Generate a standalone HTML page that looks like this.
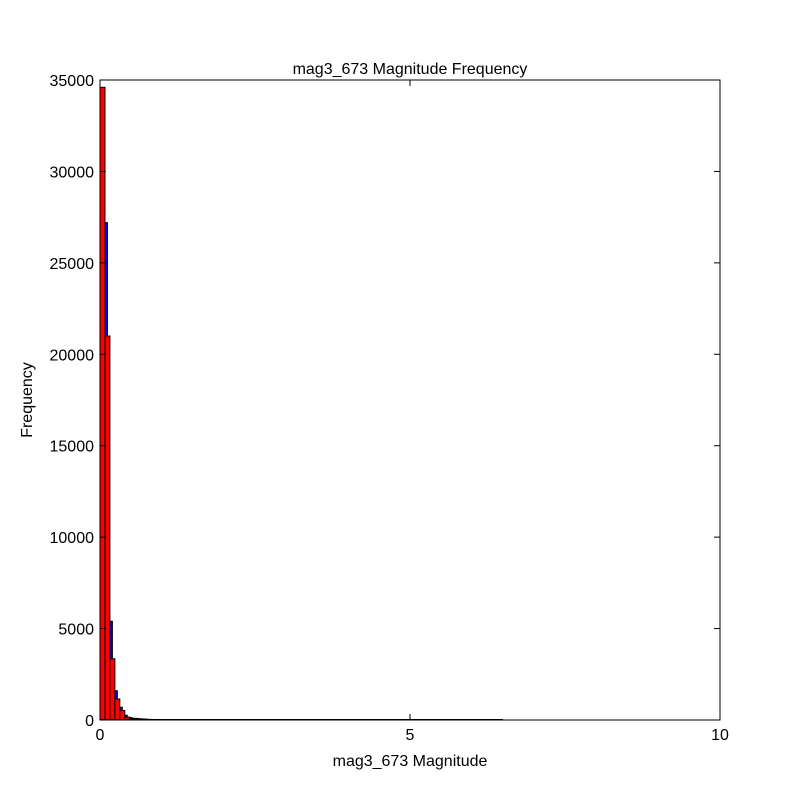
<!DOCTYPE html>
<html><head><meta charset="utf-8"><style>
body{margin:0;background:#fff;}
svg{display:block;font-family:"Liberation Sans",sans-serif;}
</style></head><body>
<svg id="chart" width="800" height="800">
<rect x="0" y="0" width="800" height="800" fill="#fff"/>
<g id="bars"></g>
<rect x="100" y="80" width="620" height="640" fill="none" stroke="#000" stroke-width="1"/>
<g id="axes"></g>
<text x="410" y="74" text-anchor="middle" font-size="16">mag3_673 Magnitude Frequency</text>
<text x="410" y="766" text-anchor="middle" font-size="16">mag3_673 Magnitude</text>
<text x="32" y="400" text-anchor="middle" font-size="16" transform="rotate(-90 32 400)">Frequency</text>
</svg>
<script>
const binWidth = 0.08;
const redCounts = [34600, 21000, 3350, 1150, 520, 160, 90, 60, 40, 25, 15, 10];
const blueCounts = [27200, 5400, 1600, 700, 260, 130, 90, 70, 50, 35, 25, 15, 10];
const blueOffset = 0.04;
const xTicks = [0, 5, 10];
const yTicks = [0, 5000, 10000, 15000, 20000, 25000, 30000, 35000];
const xMax = 10, yMax = 35000;
const X0 = 100, X1 = 720, Y0 = 720, Y1 = 80;
const sx = v => X0 + v / xMax * (X1 - X0);
const sy = v => Y0 - v / yMax * (Y0 - Y1);
const NS = "http://www.w3.org/2000/svg";
const bars = document.getElementById('bars');
const axes = document.getElementById('axes');
function bar(x0, count, color, name) {
  const r = document.createElementNS(NS, 'rect');
  const x = sx(x0), w = sx(x0 + binWidth) - sx(x0);
  r.setAttribute('x', x); r.setAttribute('y', sy(count));
  r.setAttribute('width', w); r.setAttribute('height', Y0 - sy(count));
  r.setAttribute('fill', color); r.setAttribute('stroke', '#000'); r.setAttribute('stroke-width', '1');
  
  
  bars.appendChild(r);
}
blueCounts.forEach((c, i) => bar(blueOffset + i * binWidth, c, '#0000ff', 'blue-bar'));
redCounts.forEach((c, i) => bar(i * binWidth, c, '#ff0000', 'red-bar'));
// near-zero tail line
const tail = document.createElementNS(NS, 'line');
tail.setAttribute('x1', sx(0)); tail.setAttribute('x2', sx(6.5));
tail.setAttribute('y1', Y0 - 0.5); tail.setAttribute('y2', Y0 - 0.5);
tail.setAttribute('stroke', '#000'); tail.setAttribute('stroke-width', '1');


bars.appendChild(tail);
function ln(x1, y1, x2, y2, name) {
  const l = document.createElementNS(NS, 'line');
  l.setAttribute('x1', x1); l.setAttribute('y1', y1); l.setAttribute('x2', x2); l.setAttribute('y2', y2);
  l.setAttribute('stroke', '#000'); l.setAttribute('stroke-width', '1');
  
  
  axes.appendChild(l);
}
function txt(x, y, s, anchor, name) {
  const t = document.createElementNS(NS, 'text');
  t.setAttribute('x', x); t.setAttribute('y', y); t.setAttribute('text-anchor', anchor);
  t.setAttribute('font-size', '16'); t.textContent = s;
  
  
  axes.appendChild(t);
}
xTicks.forEach(v => {
  const x = sx(v);
  ln(x, Y0, x, Y0 - 6, 'x-tick'); ln(x, Y1, x, Y1 + 6, 'x-tick-top');
  txt(x, Y0 + 20, String(v), 'middle', 'x-tick-label');
});
yTicks.forEach(v => {
  const y = sy(v);
  ln(X0, y, X0 + 6, y, 'y-tick'); ln(X1, y, X1 - 6, y, 'y-tick-right');
  txt(X0 - 6, y + 6, String(v), 'end', 'y-tick-label');
});
</script>
</body></html>
